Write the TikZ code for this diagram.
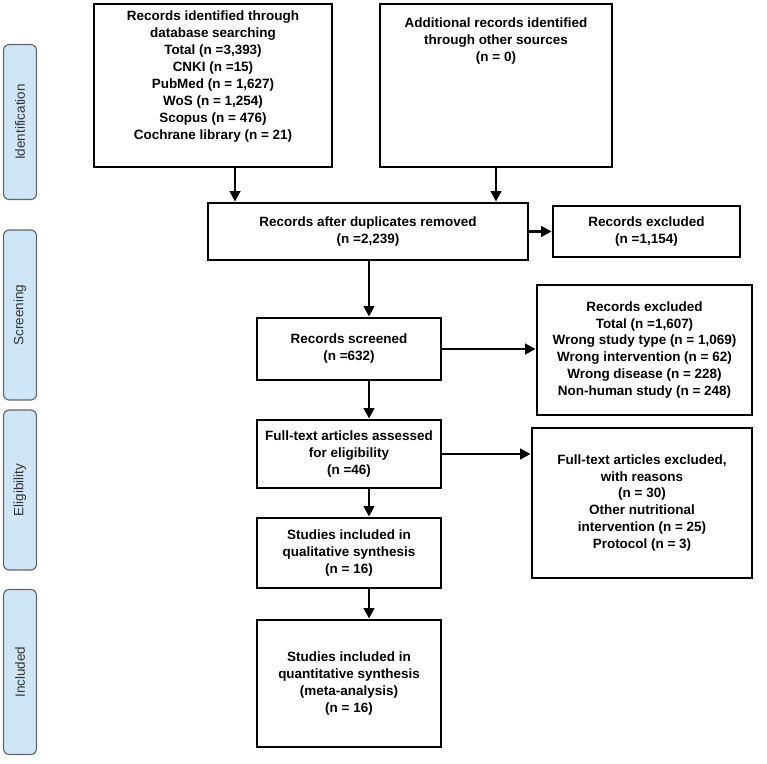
\documentclass[tikz,border=0pt]{standalone}
\usepackage{fontspec}
\setmainfont{Liberation Sans}
\usetikzlibrary{positioning, arrows.meta}
\definecolor{phase}{HTML}{CFE6F8}
\begin{document}
\begin{tikzpicture}[x=0.03cm, y=-0.03cm, >={Triangle[length=9pt,width=9pt]},
    box/.style={draw, line width=2.4pt, align=center, inner sep=2pt,
      font=\bfseries\fontsize{11.5}{14.5}\selectfont},
    stage/.style={draw=black!60, fill=phase, rounded corners=5pt, line width=1pt,
      font=\fontsize{11.5}{13}\selectfont, text=black!80, rotate=90, minimum height=0.99cm},
    flow/.style={->, line width=2.4pt}]
    \useasboundingbox (0,0) rectangle (767,763);
    % phases
    \node[stage, minimum width=4.65cm] at (20,122) (ident) {Identification};
    \node[stage, minimum width=5.1cm] at (20,315) (screen) {Screening};
    \node[stage, minimum width=4.8cm] at (20,490) (elig) {Eligibility};
    \node[stage, minimum width=4.95cm] at (20,672) (incl) {Included};

    % boxes
    \node[box, minimum width=7.14cm, minimum height=4.89cm] at (213,85.5) (ident1)
      {Records identified through\\database searching\\Total (n =3,393)\\CNKI (n =15)\\PubMed (n = 1,627)\\WoS (n = 1,254)\\Scopus (n = 476)\\Cochrane library (n = 21)\\[4pt]};
    \node[box, minimum width=6.96cm, minimum height=4.89cm] at (496,85.5) (ident2)
      {Additional records identified\\through other sources\\(n = 0)\\[64pt]};
    \node[box, minimum width=9.6cm, minimum height=1.71cm] at (368,231.5) (dup)
      {Records after duplicates removed\\(n =2,239)};
    \node[box, minimum width=5.61cm, minimum height=1.53cm] at (646.5,231.5) (excl1)
      {Records excluded\\(n =1,154)};
    \node[box, minimum width=5.52cm, minimum height=1.86cm] at (349,349) (scr)
      {Records screened\\(n =632)};
    \node[box, minimum width=6.45cm, minimum height=3.9cm] at (644.5,350) (excl2)
      {Records excluded\\Total (n =1,607)\\Wrong study type (n = 1,069)\\Wrong intervention (n = 62)\\Wrong disease (n = 228)\\Non-human study (n = 248)};
    \node[box, minimum width=5.52cm, minimum height=2.04cm] at (349,454) (full)
      {Full-text articles assessed\\for eligibility\\(n =46)};
    \node[box, minimum width=6.6cm, minimum height=4.5cm] at (642,503) (excl3)
      {Full-text articles excluded,\\with reasons\\(n = 30)\\Other nutritional\\intervention (n = 25)\\Protocol (n = 3)};
    \node[box, minimum width=5.52cm, minimum height=2.1cm] at (349,553) (qual)
      {Studies included in\\qualitative synthesis\\(n = 16)};
    \node[box, minimum width=5.52cm, minimum height=3.81cm] at (349,683.5) (quant)
      {Studies included in\\quantitative synthesis\\(meta-analysis)\\(n = 16)};

    % arrows
    \draw[flow] (ident1.south -| 235,0) -- (235,0 |- dup.north);
    \draw[flow] (ident2.south) -- (ident2.south |- dup.north);
    \draw[flow] (dup) -- (excl1);
    \draw[flow] (dup.south -| 369,0) -- (369,0 |- scr.north);
    \draw[flow] (scr) -- (scr -| excl2.west);
    \draw[flow] (scr.south -| 369,0) -- (369,0 |- full.north);
    \draw[flow] (full) -- (full -| excl3.west);
    \draw[flow] (full.south -| 369,0) -- (369,0 |- qual.north);
    \draw[flow] (qual.south -| 369,0) -- (369,0 |- quant.north);
\end{tikzpicture}
\end{document}
